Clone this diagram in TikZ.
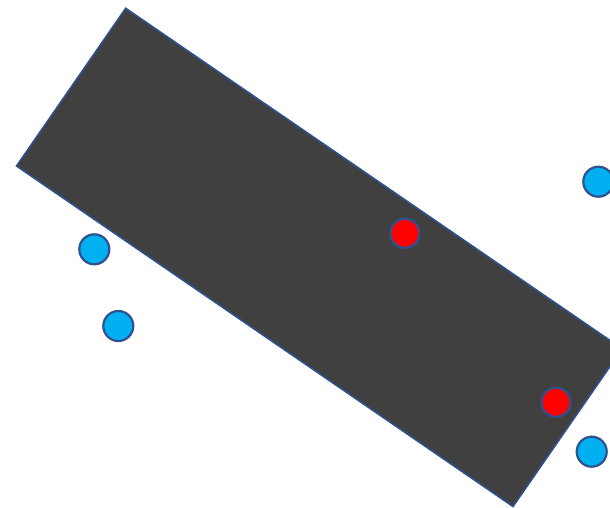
\documentclass[tikz,border=0pt]{standalone}
\definecolor{edgeblue}{HTML}{2F528F}
\definecolor{slab}{HTML}{404040}
\definecolor{dotblue}{HTML}{00B0F0}
\definecolor{dotred}{HTML}{FF0000}
\begin{document}
\begin{tikzpicture}[x=1pt,y=-1pt,
  dot/.style={circle,draw=edgeblue,line width=2.2pt,minimum size=29pt,inner sep=0pt},
  bluedot/.style={dot,fill=dotblue,minimum size=30pt},
  reddot/.style={dot,fill=dotred}]
\useasboundingbox (0,0) rectangle (610,508);
\clip (0,0) rectangle (610,508);
\fill[white] (0,0) rectangle (610,508);
\coordinate (t) at (125.7,8.3);
\coordinate (l) at (16.5,166);
\coordinate (b) at (513,506.5);
\coordinate (r) at (622.2,348.8);
\draw[edgeblue,fill=slab,line width=1.6pt,line join=miter] (t) -- (r) -- (b) -- (l) -- cycle;
\node[reddot] (r1) at (405,233.3) {};
\node[reddot] (r2) at (556,402.3) {};
\node[bluedot] (b1) at (94.3,249.3) {};
\node[bluedot] (b2) at (118.3,326) {};
\node[bluedot] (b3) at (598.3,181.7) {};
\node[bluedot] (b4) at (591.7,451.7) {};
\end{tikzpicture}
\end{document}
